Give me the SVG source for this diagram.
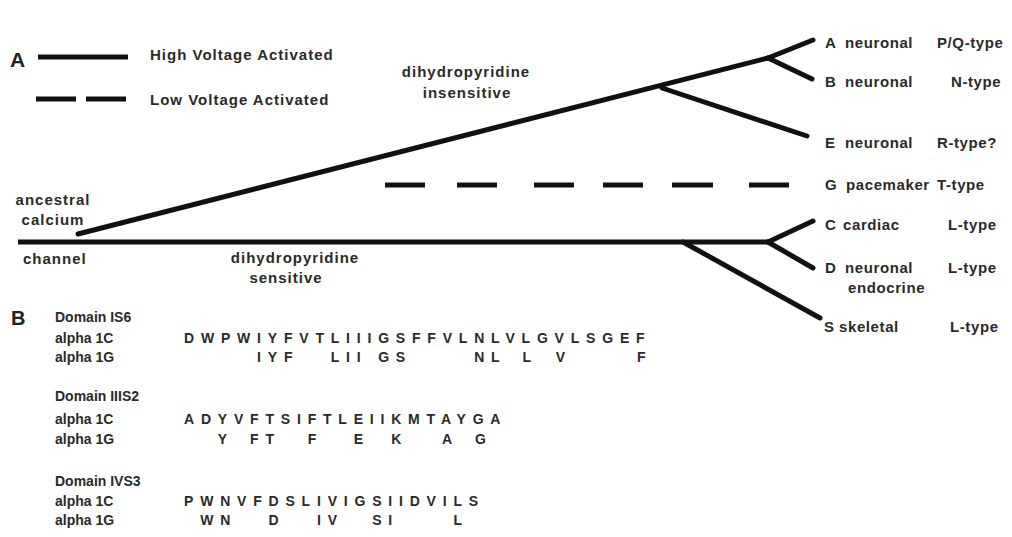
<svg xmlns="http://www.w3.org/2000/svg" width="1012" height="537" viewBox="0 0 1012 537">
<style>
.bg{fill:#ffffff}
.ln{stroke:#111;stroke-width:5;fill:none;stroke-linecap:round}
.lnb{stroke:#111;stroke-width:5;fill:none;stroke-linecap:butt}
.lb{font-family:"Liberation Sans",Arial,sans-serif;font-weight:bold;font-size:15px;letter-spacing:1px;fill:#2a2a2a}
.rl{font-family:"Liberation Sans",Arial,sans-serif;font-weight:bold;font-size:15px;letter-spacing:0.6px;fill:#2a2a2a}
.mid{text-anchor:middle}
.big{font-family:"Liberation Sans",Arial,sans-serif;font-weight:bold;font-size:21px;fill:#222}
.dl{font-family:"Liberation Sans",Arial,sans-serif;font-weight:bold;font-size:14px;fill:#2a2a2a}
.seq{font-family:"Liberation Sans",Arial,sans-serif;font-weight:bold;font-size:14px;letter-spacing:6.8px;fill:#2a2a2a}
</style>
<rect class="bg" x="0" y="0" width="1012" height="537"/>

<g id="legend">
  <text class="big" x="10" y="67">A</text>
  <line class="lnb" x1="38" y1="57" x2="128" y2="57"/>
  <text class="lb" x="150" y="60">High Voltage Activated</text>
  <path class="lnb" d="M36 99H76M86 99H126"/>
  <text class="lb" x="150" y="105">Low Voltage Activated</text>
</g>

<g id="connectors">
  <line class="lnb" x1="18" y1="242" x2="768" y2="242"/>
  <line class="ln" x1="78" y1="234" x2="768" y2="58"/>
  <line class="ln" x1="768" y1="58" x2="813" y2="40"/>
  <line class="ln" x1="768" y1="58" x2="812" y2="79"/>
  <line class="ln" x1="662" y1="88" x2="807" y2="136"/>
  <path class="lnb" d="M385 185H425M457 185H497M534 185H574M603 185H643M672 185H713M749 185H789"/>
  <line class="ln" x1="768" y1="242" x2="813" y2="221"/>
  <line class="ln" x1="768" y1="242" x2="813" y2="268"/>
  <line class="ln" x1="683" y1="242" x2="820" y2="318"/>
</g>

<g id="root">
  <text class="lb mid" x="53" y="205">ancestral</text>
  <text class="lb mid" x="53" y="225">calcium</text>
  <text class="lb" x="23" y="264">channel</text>
</g>
<g id="dhp-insensitive">
  <text class="lb mid" x="466" y="77">dihydropyridine</text>
  <text class="lb mid" x="467" y="98">insensitive</text>
</g>
<g id="dhp-sensitive">
  <text class="lb mid" x="295" y="263">dihydropyridine</text>
  <text class="lb mid" x="286" y="283">sensitive</text>
</g>

<g id="node-A">
  <text class="rl" x="825" y="48">A</text>
  <text class="rl" x="845" y="48">neuronal</text>
  <text class="rl" x="937" y="48">P/Q-type</text>
</g>
<g id="node-B">
  <text class="rl" x="825" y="87">B</text>
  <text class="rl" x="845" y="87">neuronal</text>
  <text class="rl" x="951" y="87">N-type</text>
</g>
<g id="node-E">
  <text class="rl" x="825" y="148">E</text>
  <text class="rl" x="845" y="148">neuronal</text>
  <text class="rl" x="937" y="148">R-type?</text>
</g>
<g id="node-G">
  <text class="rl" x="825" y="190">G</text>
  <text class="rl" x="846" y="190">pacemaker</text>
  <text class="rl" x="937" y="190">T-type</text>
</g>
<g id="node-C">
  <text class="rl" x="825" y="230">C</text>
  <text class="rl" x="843" y="230">cardiac</text>
  <text class="rl" x="948" y="230">L-type</text>
</g>
<g id="node-D">
  <text class="rl" x="825" y="273">D</text>
  <text class="rl" x="845" y="273">neuronal</text>
  <text class="rl" x="948" y="273">L-type</text>
  <text class="rl" x="848" y="293">endocrine</text>
</g>
<g id="node-S">
  <text class="rl" x="824" y="332">S</text>
  <text class="rl" x="839" y="332">skeletal</text>
  <text class="rl" x="950" y="332">L-type</text>
</g>

<g id="panel-B">
  <text class="big" x="11" y="325" style="font-size:20px">B</text>

  <text class="dl" x="55" y="322">Domain IS6</text>
  <text class="dl" x="55" y="343">alpha 1C</text>
  <text class="dl" x="55" y="362">alpha 1G</text>
  <text class="seq" x="184" y="343">DWPWIYFVTLIIIGSFFVLNLVLGVLSGEF</text>
  <text class="seq" y="362"><tspan x="257.09">IYF</tspan> <tspan x="330.76">LII</tspan> <tspan x="378.18">GS</tspan> <tspan x="474.2">NL</tspan> <tspan x="522.6">L</tspan> <tspan x="555.64">V</tspan> <tspan x="637.1">F</tspan></text>

  <text class="dl" x="55" y="401">Domain IIIS2</text>
  <text class="dl" x="55" y="424">alpha 1C</text>
  <text class="dl" x="55" y="444">alpha 1G</text>
  <text class="seq" x="184" y="424">ADYVFTSIFTLEIIKMTAYGA</text>
  <text class="seq" y="444"><tspan x="217.82">Y</tspan> <tspan x="250.1">FT</tspan> <tspan x="307.63">F</tspan> <tspan x="353.68">E</tspan> <tspan x="391.2">K</tspan> <tspan x="441.92">A</tspan> <tspan x="474.97">G</tspan></text>

  <text class="dl" x="55" y="486">Domain IVS3</text>
  <text class="dl" x="55" y="506">alpha 1C</text>
  <text class="dl" x="55" y="525">alpha 1G</text>
  <text class="seq" x="184" y="506">PWNVFDSLIVIGSIIDVILS</text>
  <text class="seq" y="525"><tspan x="200.14">WN</tspan> <tspan x="268.56">D</tspan> <tspan x="316.96">IV</tspan> <tspan x="372.17">SI</tspan> <tspan x="453.43">L</tspan></text>
</g>
</svg>
